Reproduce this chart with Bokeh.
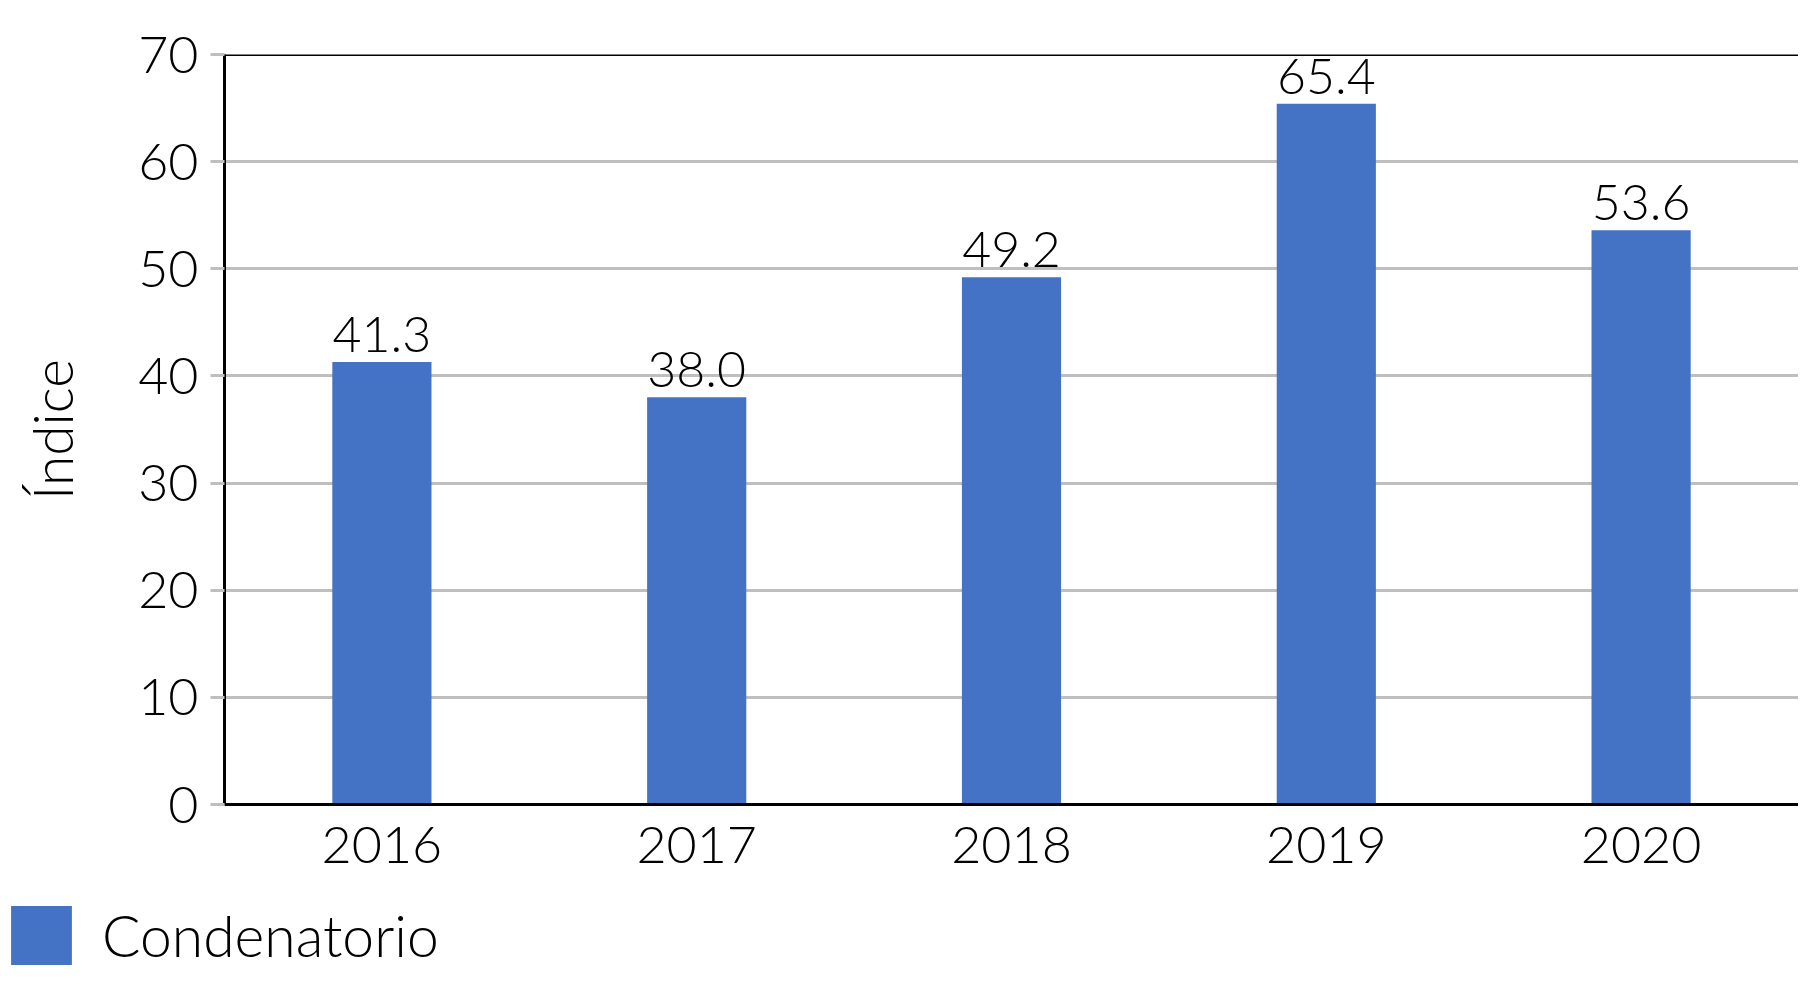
from bokeh.plotting import figure
from bokeh.models import (ColumnDataSource, Range1d, FixedTicker, LabelSet, Legend,
                          LegendItem, Span)
from bokeh.core.properties import value
from bokeh.embed import file_html
from bokeh.resources import INLINE

years = ["2016", "2017", "2018", "2019", "2020"]
values = [41.3, 38.0, 49.2, 65.4, 53.6]
value_labels = ["41.3", "38.0", "49.2", "65.4", "53.6"]
y_ticks = [0, 10, 20, 30, 40, 50, 60, 70]
series_name = "Condenatorio"
y_title = "Índice"

FONT = "Lato Light"
BLUE = "#4472C4"
GRID = "#BFBFBF"
W = 1798

src = ColumnDataSource(dict(x=years, top=values, lab=value_labels))

p = figure(x_range=years, y_range=Range1d(0, 70),
           frame_width=W - 224, frame_height=750,
           min_border_left=224, min_border_top=54, min_border_bottom=90, min_border_right=0,
           output_backend="svg", toolbar_location=None)

r = p.vbar(x="x", top="top", width=0.315, source=src, fill_color=BLUE, line_color=None)

p.outline_line_color = None
p.background_fill_color = "white"

p.xgrid.grid_line_color = None
p.ygrid.grid_line_color = GRID
p.ygrid.grid_line_width = 3
p.yaxis.ticker = FixedTicker(ticks=y_ticks)

for ax in (p.xaxis[0], p.yaxis[0]):
    ax.axis_line_color = "black"
    ax.axis_line_width = 3
    ax.major_label_text_font = FONT
    ax.major_label_text_font_size = "52px"
    ax.major_label_text_color = "black"
    ax.minor_tick_line_color = None

p.xaxis.major_tick_line_color = None
p.xaxis.major_label_standoff = 16

p.yaxis.major_tick_line_color = GRID
p.yaxis.major_tick_line_width = 3
p.yaxis.major_tick_out = 14
p.yaxis.major_tick_in = 0
p.yaxis.major_label_standoff = 12
p.yaxis.axis_label = y_title
p.yaxis.axis_label_text_font = FONT
p.yaxis.axis_label_text_font_size = "55px"
p.yaxis.axis_label_text_font_style = "normal"
p.yaxis.axis_label_text_color = "black"
p.yaxis.axis_label_standoff = 50

top_line = Span(location=70, dimension="width", line_color="black", line_width=3)
p.add_layout(top_line)

labels = LabelSet(x="x", y="top", text="lab", source=src, text_align="center",
                  text_baseline="alphabetic", y_offset=10,
                  text_font=value(FONT), text_font_size=value("50px"), text_color="black")
p.add_layout(labels)

# legend strip below the chart (separate root so it is not frame-aligned)
lg = figure(width=W, height=88, x_range=years, y_range=Range1d(-2, -1),
            min_border=0, x_axis_location=None, y_axis_location=None,
            output_backend="svg", toolbar_location=None)
lg.outline_line_color = None
lg.grid.grid_line_color = None
sw = lg.vbar(x="x", top="top", width=0.315, source=src, fill_color=BLUE, line_color=None)
sw.visible = False
legend = Legend(items=[LegendItem(label=series_name, renderers=[sw])],
                location=(3, 10), glyph_width=76, glyph_height=74, label_height=74,
                label_standoff=23, padding=0, margin=0, spacing=0,
                label_text_font=FONT, label_text_font_size="57px", label_text_color="black",
                background_fill_alpha=0, border_line_alpha=0,
                inactive_fill_alpha=0)
lg.add_layout(legend, "center")

open("out.html", "w").write(file_html([p, lg], INLINE))
